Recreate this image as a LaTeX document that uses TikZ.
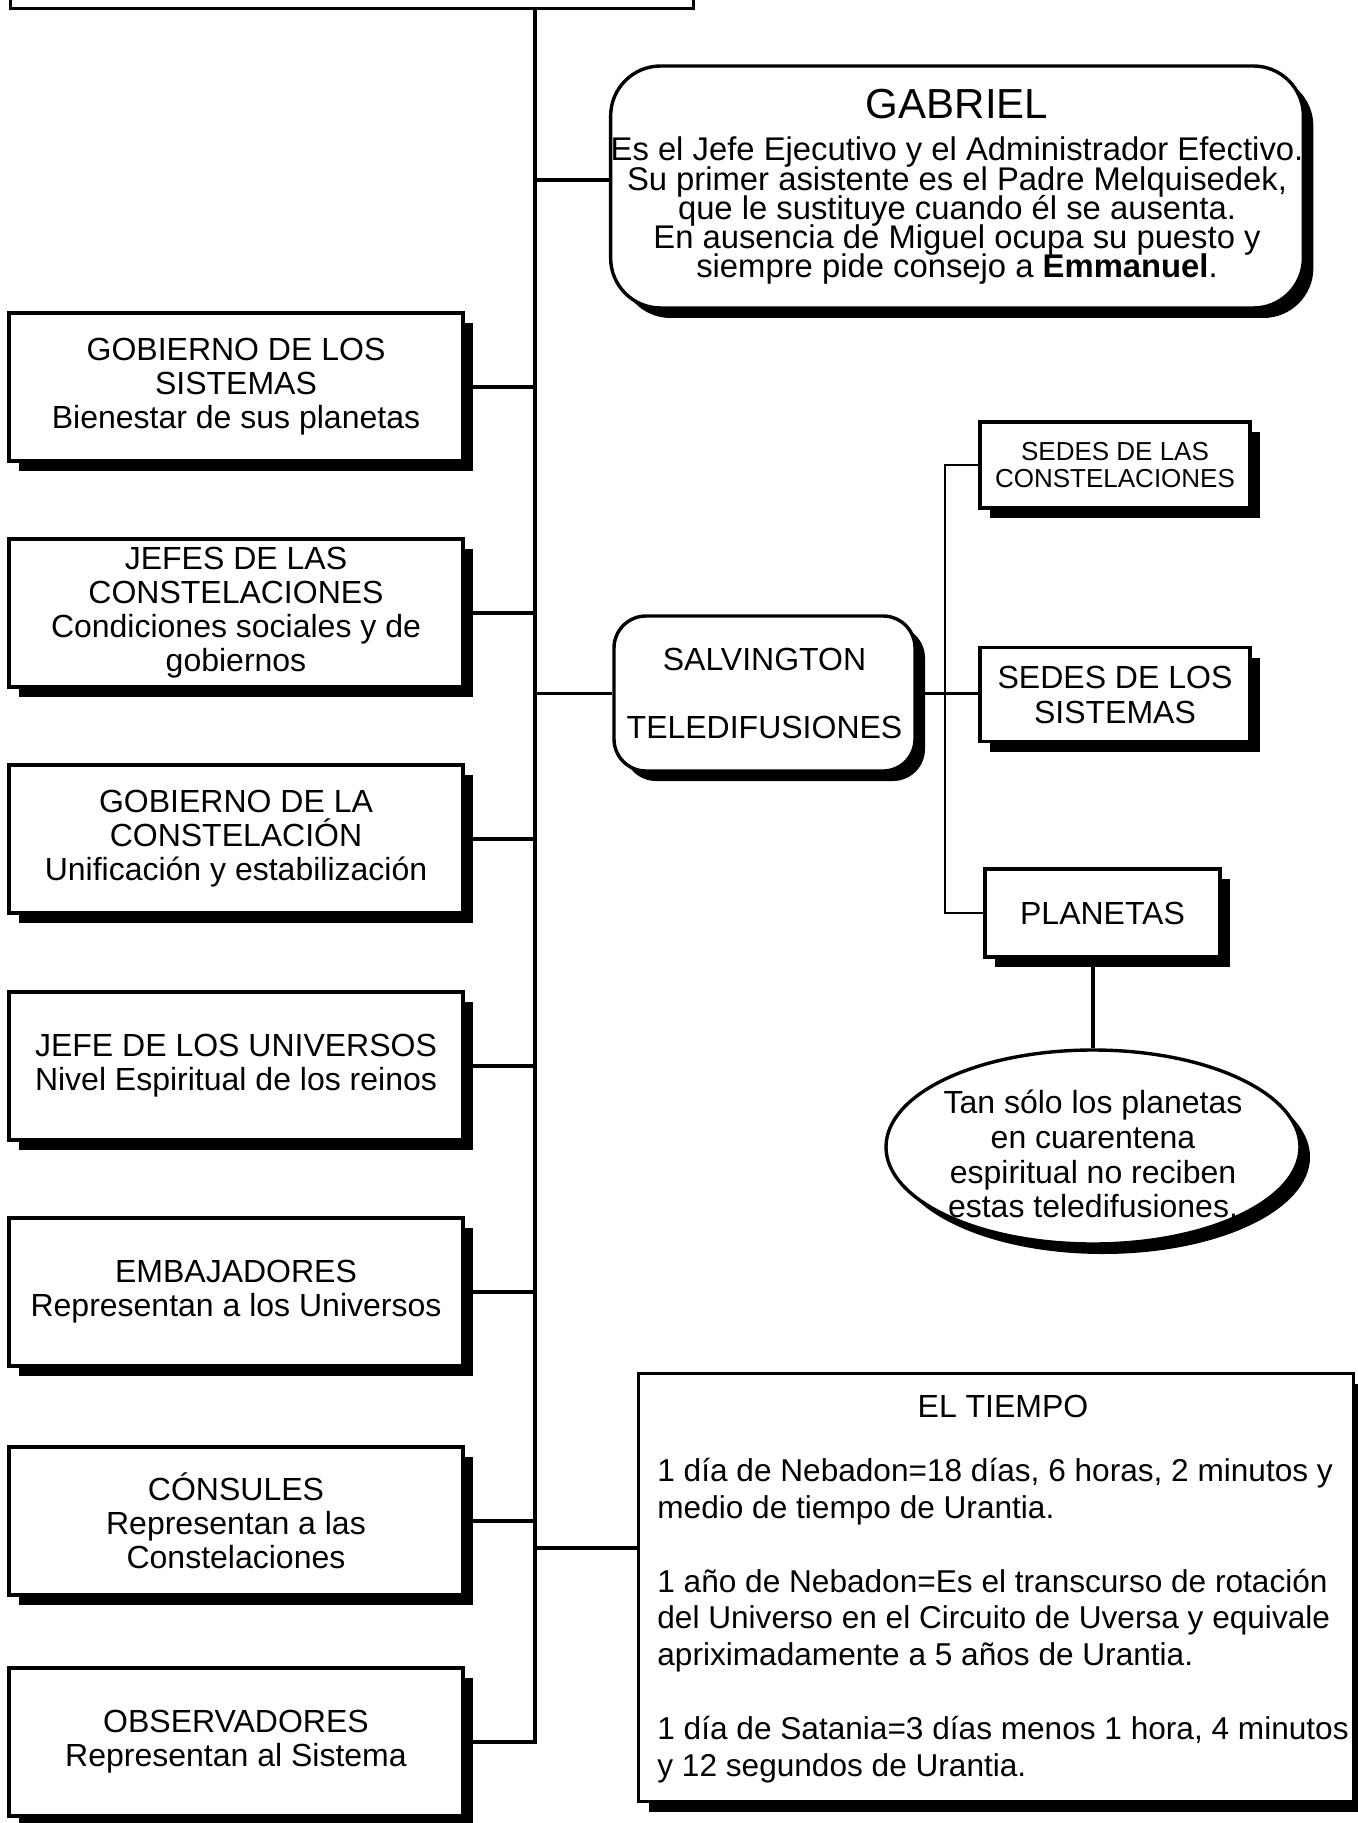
\documentclass[tikz,border=0pt]{standalone}
\usepackage{fontspec}
\setmainfont{Liberation Sans}
\usetikzlibrary{shadows,shapes.geometric}
\newcommand\gabfont{\fontsize{16.4}{14.6}\selectfont\lineskiplimit=-20pt\relax}
\begin{document}
\begin{tikzpicture}[x=0.5pt,y=-0.5pt,
  box/.style={draw, line width=1.7pt, fill=white, rectangle, inner sep=0pt, align=center,
    general shadow={fill=black, shadow xshift=5pt, shadow yshift=-5pt}},
  leftbox/.style={box, minimum width=227pt, minimum height=74pt, font=\fontsize{16}{17}\selectfont},
  conn/.style={line width=1.7pt},
  branch/.style={line width=1.4pt},
  txt/.style={font=\fontsize{16}{17}\selectfont, inner sep=0pt}
]
\useasboundingbox (0,0) rectangle (1357,1823);
\fill[white] (0,0) rectangle (1357,1823);

% top box
\node[draw, line width=1.7pt, minimum width=341.5pt, minimum height=20pt, anchor=south west, inner sep=0pt] (top) at (9,10) {};
\coordinate (tk) at (535,10);

% left column
\node[leftbox] (b1) at (236,387) {GOBIERNO DE LOS\\SISTEMAS\\Bienestar de sus planetas};
\node[leftbox] (b2) at (236,613) {JEFES DE LAS\\CONSTELACIONES\\Condiciones sociales y de\\gobiernos};
\node[leftbox] (b3) at (236,839) {GOBIERNO DE LA\\CONSTELACIÓN\\Unificación y estabilización};
\node[leftbox] (b4) at (236,1066) {JEFE DE LOS UNIVERSOS\\Nivel Espiritual de los reinos};
\node[leftbox] (b5) at (236,1292) {EMBAJADORES\\Representan a los Universos};
\node[leftbox] (b6) at (236,1521) {CÓNSULES\\Representan a las\\Constelaciones};
\node[leftbox] (b7) at (236,1742) {OBSERVADORES\\Representan al Sistema};

% Gabriel
\node[box, rounded corners=25pt, minimum width=343pt, minimum height=121pt,
  font=\gabfont] (gab) at (957,187)
  {{\fontsize{21}{21}\selectfont GABRIEL}\\[6.5pt]
   Es el Jefe Ejecutivo y el Administrador Efectivo.\\
   Su primer asistente es el Padre Melquisedek,\\
   que le sustituye cuando él se ausenta.\\
   En ausencia de Miguel ocupa su puesto y\\
   siempre pide consejo a \textbf{Emmanuel}.};

% Salvington
\node[box, rounded corners=16pt, minimum width=150.5pt, minimum height=77.5pt,
  font=\fontsize{16}{17}\selectfont] (salv) at (764.5,693.5) {SALVINGTON\\[17pt]TELEDIFUSIONES};

% right sub-branch boxes
\node[box, minimum width=135pt, minimum height=43pt, font=\fontsize{13}{13.4}\selectfont] (sc) at (1115,465) {SEDES DE LAS\\CONSTELACIONES};
\node[box, minimum width=135pt, minimum height=47pt, font=\fontsize{16}{17.5}\selectfont] (ss) at (1115,694.5) {SEDES DE LOS\\SISTEMAS};
\node[box, minimum width=117.5pt, minimum height=44pt, font=\fontsize{16}{17}\selectfont] (pl) at (1102.5,913) {PLANETAS};

% ellipse
\node[box, ellipse, minimum width=207pt, minimum height=97pt, inner xsep=-4pt, inner ysep=-4pt,
  font=\fontsize{16}{17.3}\selectfont] (ell) at (1093,1147)
  {\rule{0pt}{19pt}Tan sólo los planetas\\en cuarentena\\espiritual no reciben\\estas teledifusiones.};

% El tiempo
\node[box, minimum width=357.5pt, minimum height=214pt, anchor=north west] (tiempo) at (637,1372) {};
\node[txt] (ttitle) at (1003,1406) {EL TIEMPO};
\node[txt, font=\fontsize{15.8}{18.4}\selectfont, anchor=north west, align=left] (tbody) at (657,1458)
  {1 día de Nebadon=18 días, 6 horas, 2 minutos y\\
   medio de tiempo de Urantia.\\[18.4pt]
   1 año de Nebadon=Es el transcurso de rotación\\
   del Universo en el Circuito de Uversa y equivale\\
   apriximadamente a 5 años de Urantia.\\[18.4pt]
   1 día de Satania=3 días menos 1 hora, 4 minutos\\
   y 12 segundos de Urantia.};

% trunk and connectors
\draw[conn] (b7.east) -| (tk);
\foreach \b in {b1,b2,b3,b4,b5,b6} { \draw[conn] (\b.east) -- (\b.east -| tk); }
\coordinate (gcon) at ([yshift=3.5pt]gab.west);
\draw[conn] (gcon) -- (gcon -| tk);
\draw[conn] (salv.west) -- (salv.west -| tk);
\coordinate (tcon) at ([yshift=-88pt]tiempo.north west);
\draw[conn] (tcon) -- (tcon -| tk);

% sub-branch
\draw[conn] (salv.east) -- (salv.east -| ss.west);
\coordinate (brx) at (945,700);
\draw[branch] (sc.west) -| (brx) |- (pl.west);
\draw[conn] (ell.north) -- (ell.north |- pl.south);
\end{tikzpicture}
\end{document}
